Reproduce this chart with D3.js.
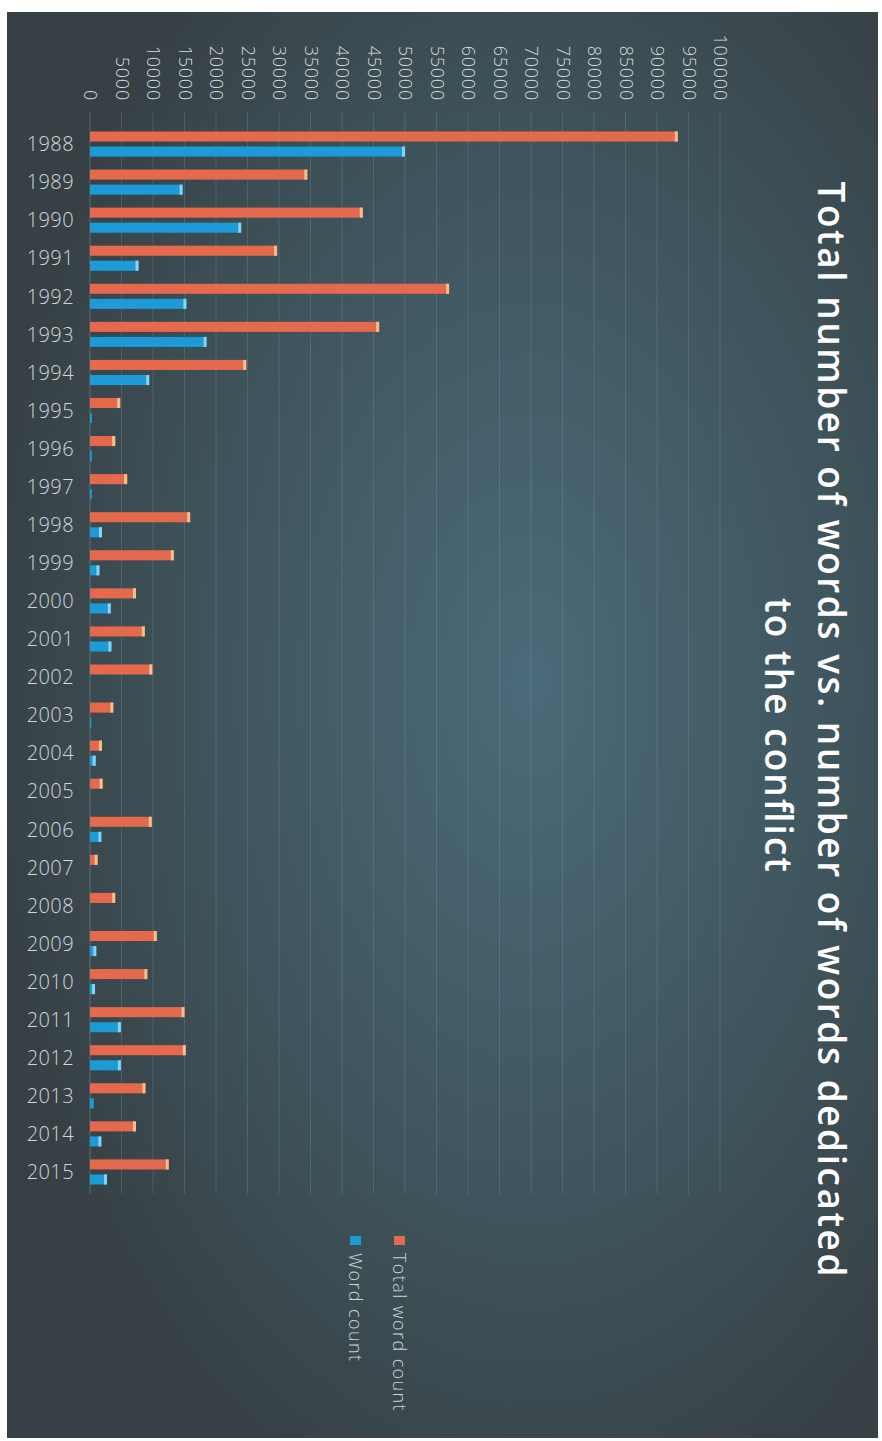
<!DOCTYPE html>
<html>
<head>
<meta charset="utf-8">
<script src="https://cdn.jsdelivr.net/npm/d3@7/dist/d3.min.js"></script>
<style>
  html, body { margin: 0; padding: 0; background: #ffffff; }
  svg { display: block; }
</style>
</head>
<body>
<svg id="chart" width="882" height="1441"></svg>
<script>
// ---------- data ----------
const years = ["1988","1989","1990","1991","1992","1993","1994","1995","1996","1997",
               "1998","1999","2000","2001","2002","2003","2004","2005","2006","2007",
               "2008","2009","2010","2011","2012","2013","2014","2015"];
const totalWordCount = [93300, 34500, 43300, 29700, 57000, 45900, 24800, 4800, 4000, 5900,
                        15900, 13300, 7300, 8700, 9900, 3700, 1900, 2000, 9800, 1200,
                        4000, 10600, 9100, 15000, 15200, 8800, 7300, 12500];
const wordCount = [50000, 14700, 24000, 7700, 15300, 18500, 9400, 300, 300, 300,
                   1900, 1500, 3300, 3400, 0, 200, 900, 0, 1800, 0,
                   0, 1000, 800, 4900, 4900, 600, 1800, 2700];
const seriesNames = ["Total word count", "Word count"];
const tickValues = [0, 5000, 10000, 15000, 20000, 25000, 30000, 35000, 40000, 45000, 50000,
                    55000, 60000, 65000, 70000, 75000, 80000, 85000, 90000, 95000, 100000];
const titleLines = ["Total number of words vs. number of words dedicated", "to the conflict"];

// ---------- setup ----------
const svg = d3.select("#chart");
const defs = svg.append("defs");
const grad = defs.append("radialGradient").attr("id", "bg")
  .attr("cx", "60%").attr("cy", "47%").attr("r", "62%");
grad.append("stop").attr("offset", "0%").attr("stop-color", "#4b6a79");
grad.append("stop").attr("offset", "55%").attr("stop-color", "#40565f");
grad.append("stop").attr("offset", "100%").attr("stop-color", "#374145");

svg.append("rect").attr("x", 7).attr("y", 12).attr("width", 871).attr("height", 1426)
  .attr("fill", "url(#bg)");

const colors = { "Total word count": "#e5694d", "Word count": "#1c9bd8" };
const tipColors = { "Total word count": "#f3c08e", "Word count": "#86d3f2" };

const x = d3.scaleLinear().domain([0, 100000]).range([90, 720]);
const y = d3.scaleBand().domain(years).range([125, 1191]).paddingInner(0).paddingOuter(0);
const ySub = d3.scaleBand().domain(seriesNames).range([0, y.bandwidth()])
  .paddingInner(0.333).paddingOuter(0.43);

// gridlines
svg.append("g").selectAll("line").data(tickValues).join("line")
  .attr("x1", d => x(d)).attr("x2", d => x(d))
  .attr("y1", 112).attr("y2", 1194)
  .attr("stroke", "#9bbdcc").attr("stroke-opacity", d => d === 0 ? 0.35 : 0.2)
  .attr("stroke-width", 1);

// value axis (labels rotated)
const axis = svg.append("g").attr("transform", "translate(0,101)")
  .call(d3.axisTop(x).tickValues(tickValues).tickSize(0).tickFormat(d => String(d)));
axis.select(".domain").remove();
axis.selectAll("text")
  .attr("transform", "rotate(90)")
  .attr("x", 0).attr("y", 0).attr("dy", "0.36em")
  .attr("text-anchor", "end")
  .attr("fill", "#d6dbdd")
  .style("font-family", "'Open Sans', sans-serif")
  .style("font-weight", 300)
  .style("font-size", "18px")
  .style("letter-spacing", "0.8px");

// category labels
svg.append("g").selectAll("text").data(years).join("text")
  .attr("x", 74).attr("y", d => y(d) + y.bandwidth() / 2)
  .attr("dy", "0.36em").attr("text-anchor", "end")
  .attr("fill", "#d2d7d9")
  .style("font-family", "'Open Sans', sans-serif")
  .style("font-weight", 300)
  .style("font-size", "20px")
  .style("letter-spacing", "0.4px")
  .text(d => d);

// bars
const rows = [];
years.forEach((yr, i) => {
  rows.push({ year: yr, series: "Total word count", value: totalWordCount[i] });
  rows.push({ year: yr, series: "Word count", value: wordCount[i] });
});
const barG = svg.append("g");
barG.selectAll("rect.bar").data(rows.filter(r => r.value > 0)).join("rect")
  .attr("class", "bar")
  .attr("x", x(0))
  .attr("y", d => y(d.year) + ySub(d.series))
  .attr("width", d => Math.max(1, x(d.value) - x(0)))
  .attr("height", ySub.bandwidth())
  .attr("fill", d => colors[d.series]);
barG.selectAll("rect.tip").data(rows.filter(r => x(r.value) - x(0) > 5)).join("rect")
  .attr("class", "tip")
  .attr("x", d => x(d.value) - 3)
  .attr("y", d => y(d.year) + ySub(d.series))
  .attr("width", 3)
  .attr("height", ySub.bandwidth())
  .attr("fill", d => tipColors[d.series]);

// title (rotated)
const title = svg.append("g").attr("fill", "#ffffff")
  .style("font-family", "'Open Sans', sans-serif")
  .style("font-weight", 600)
  .style("font-size", "37px");
title.append("text")
  .attr("transform", "translate(818,729) rotate(90)")
  .attr("text-anchor", "middle")
  .attr("textLength", 1095).attr("lengthAdjust", "spacing")
  .text(titleLines[0]);
title.append("text")
  .attr("transform", "translate(765,735) rotate(90)")
  .attr("text-anchor", "middle")
  .attr("textLength", 274).attr("lengthAdjust", "spacing")
  .text(titleLines[1]);

// legend (rotated)
const legendX = { "Total word count": 393, "Word count": 349 };
const leg = svg.append("g").selectAll("g").data(seriesNames).join("g")
  .attr("transform", d => `translate(${legendX[d]},1236) rotate(90)`);
leg.append("rect")
  .attr("x", 0).attr("y", -12).attr("width", 9).attr("height", 11)
  .attr("fill", d => colors[d]);
leg.append("text")
  .attr("x", 17).attr("y", 0)
  .attr("fill", "#ccd2d5")
  .style("font-family", "'Open Sans', sans-serif")
  .style("font-weight", 300)
  .style("font-size", "18px")
  .style("letter-spacing", "1.4px")
  .text(d => d);
</script>
</body>
</html>
